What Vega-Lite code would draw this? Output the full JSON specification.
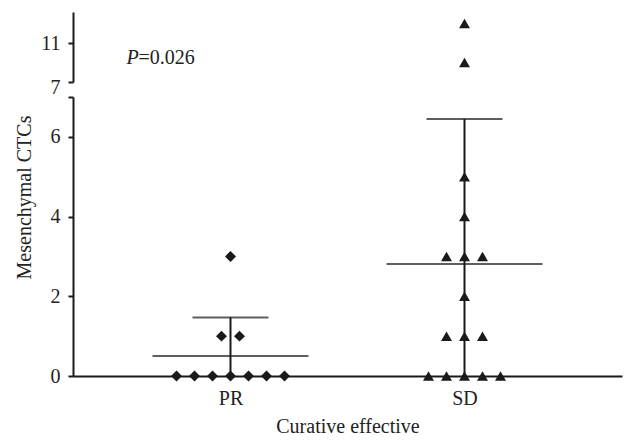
{
  "$schema": "https://vega.github.io/schema/vega-lite/v6.json",
  "width": 549,
  "height": 364,
  "autosize": {"type": "none"},
  "padding": {"left": 73, "top": 12, "right": 3, "bottom": 65},
  "background": "white",
  "config": {
    "font": "Liberation Serif",
    "view": {"stroke": null},
    "axis": {
      "labelFont": "Liberation Serif",
      "titleFont": "Liberation Serif",
      "labelFontSize": 20,
      "titleFontSize": 20,
      "titleFontWeight": "normal",
      "labelColor": "#222222",
      "titleColor": "#222222",
      "domainColor": "#1a1a1a",
      "tickColor": "#1a1a1a",
      "domainWidth": 2,
      "tickWidth": 2,
      "tickSize": 5,
      "grid": false
    }
  },
  "datasets": {
    "points": [
      {"group": "PR", "value": 0, "slot": -3},
      {"group": "PR", "value": 0, "slot": -2},
      {"group": "PR", "value": 0, "slot": -1},
      {"group": "PR", "value": 0, "slot": 0},
      {"group": "PR", "value": 0, "slot": 1},
      {"group": "PR", "value": 0, "slot": 2},
      {"group": "PR", "value": 0, "slot": 3},
      {"group": "PR", "value": 1, "slot": -0.5},
      {"group": "PR", "value": 1, "slot": 0.5},
      {"group": "PR", "value": 3, "slot": 0},
      {"group": "SD", "value": 0, "slot": -2},
      {"group": "SD", "value": 0, "slot": -1},
      {"group": "SD", "value": 0, "slot": 0},
      {"group": "SD", "value": 0, "slot": 1},
      {"group": "SD", "value": 0, "slot": 2},
      {"group": "SD", "value": 1, "slot": -1},
      {"group": "SD", "value": 1, "slot": 0},
      {"group": "SD", "value": 1, "slot": 1},
      {"group": "SD", "value": 2, "slot": 0},
      {"group": "SD", "value": 3, "slot": -1},
      {"group": "SD", "value": 3, "slot": 0},
      {"group": "SD", "value": 3, "slot": 1},
      {"group": "SD", "value": 4, "slot": 0},
      {"group": "SD", "value": 5, "slot": 0},
      {"group": "SD", "value": 9, "slot": 0},
      {"group": "SD", "value": 13, "slot": 0}
    ],
    "summary": [
      {"group": "PR", "mean": 0.5, "upper": 1.47, "lower": -0.47},
      {"group": "SD", "mean": 2.81, "upper": 6.45, "lower": -0.83}
    ],
    "annotation": [
      {"group": "PR", "pos": 8.85, "italic": "P", "rest": "=0.026"}
    ]
  },
  "encoding": {
    "x": {
      "field": "group",
      "type": "nominal",
      "scale": {"type": "point", "domain": ["PR", "SD"], "padding": 0.673, "align": 0.5},
      "axis": {"title": "Curative effective", "labelAngle": 0, "ticks": false, "tickSize": 0, "labelPadding": 12, "titlePadding": 8}
    }
  },
  "layer": [
    {
      "layer": [
        {
          "data": {"name": "summary"},
          "mark": {"type": "rule", "clip": true, "strokeWidth": 2, "color": "#1a1a1a"},
          "encoding": {
            "y": {"field": "lower", "type": "quantitative", "scale": {"domain": [0, 7], "range": [364, 85], "nice": false, "zero": false},
              "axis": {"orient": "left", "title": "Mesenchymal CTCs", "values": [0, 2, 4, 6, 7], "labelPadding": 8, "titlePadding": 16, "titleY": 185,
                "labelBaseline": {"condition": {"test": "datum.value == 7", "value": "bottom"}, "value": "middle"}}},
            "y2": {"field": "upper"}
          }
        },
        {
          "data": {"name": "summary"},
          "mark": {"type": "tick", "size": 156, "thickness": 2, "color": "#1a1a1a"},
          "encoding": {
            "y": {"field": "mean", "type": "quantitative", "scale": {"domain": [0, 7], "range": [364, 85], "nice": false, "zero": false},
              "axis": {"orient": "left", "title": "Mesenchymal CTCs", "values": [0, 2, 4, 6, 7], "labelPadding": 8, "titlePadding": 16, "titleY": 185,
                "labelBaseline": {"condition": {"test": "datum.value == 7", "value": "bottom"}, "value": "middle"}}}
          }
        },
        {
          "data": {"name": "summary"},
          "mark": {"type": "tick", "size": 76, "thickness": 2, "color": "#1a1a1a"},
          "encoding": {
            "y": {"field": "upper", "type": "quantitative", "scale": {"domain": [0, 7], "range": [364, 85], "nice": false, "zero": false},
              "axis": {"orient": "left", "title": "Mesenchymal CTCs", "values": [0, 2, 4, 6, 7], "labelPadding": 8, "titlePadding": 16, "titleY": 185,
                "labelBaseline": {"condition": {"test": "datum.value == 7", "value": "bottom"}, "value": "middle"}}}
          }
        },
        {
          "data": {"name": "points"},
          "transform": [{"filter": "datum.value <= 7"}],
          "mark": {"type": "point", "filled": true, "size": 120, "opacity": 1, "color": "#1a1a1a"},
          "encoding": {
            "y": {"field": "value", "type": "quantitative", "scale": {"domain": [0, 7], "range": [364, 85], "nice": false, "zero": false},
              "axis": {"orient": "left", "title": "Mesenchymal CTCs", "values": [0, 2, 4, 6, 7], "labelPadding": 8, "titlePadding": 16, "titleY": 185,
                "labelBaseline": {"condition": {"test": "datum.value == 7", "value": "bottom"}, "value": "middle"}}},
            "xOffset": {"field": "slot", "type": "quantitative", "scale": {"domain": [-3, 3], "range": [-54, 54]}},
            "shape": {"field": "group", "type": "nominal", "scale": {"domain": ["PR", "SD"], "range": ["diamond", "triangle-up"]}, "legend": null}
          }
        }
      ]
    },
    {
      "layer": [
        {
          "data": {"name": "points"},
          "transform": [{"filter": "datum.value > 7"}],
          "mark": {"type": "point", "filled": true, "size": 120, "opacity": 1, "color": "#1a1a1a"},
          "encoding": {
            "y": {"field": "value", "type": "quantitative", "scale": {"domain": [7, 14.18], "range": [70, 0], "nice": false, "zero": false},
              "axis": {"orient": "left", "title": null, "values": [7, 11], "labelPadding": 8, "labelExpr": "datum.value == 7 ? '' : datum.label"}},
            "xOffset": {"field": "slot", "type": "quantitative", "scale": {"domain": [-3, 3], "range": [-54, 54]}},
            "shape": {"field": "group", "type": "nominal", "scale": {"domain": ["PR", "SD"], "range": ["diamond", "triangle-up"]}, "legend": null}
          }
        },
        {
          "data": {"name": "annotation"},
          "mark": {"type": "text", "font": "Liberation Serif", "fontStyle": "italic", "fontSize": 20, "align": "left", "baseline": "alphabetic", "dx": -104, "color": "#222222"},
          "encoding": {
            "text": {"field": "italic"},
            "y": {"field": "pos", "type": "quantitative", "scale": {"domain": [7, 14.18], "range": [70, 0], "nice": false, "zero": false},
              "axis": {"orient": "left", "title": null, "values": [7, 11], "labelPadding": 8, "labelExpr": "datum.value == 7 ? '' : datum.label"}}
          }
        },
        {
          "data": {"name": "annotation"},
          "mark": {"type": "text", "font": "Liberation Serif", "fontSize": 20, "align": "left", "baseline": "alphabetic", "dx": -92, "color": "#222222"},
          "encoding": {
            "text": {"field": "rest"},
            "y": {"field": "pos", "type": "quantitative", "scale": {"domain": [7, 14.18], "range": [70, 0], "nice": false, "zero": false},
              "axis": {"orient": "left", "title": null, "values": [7, 11], "labelPadding": 8, "labelExpr": "datum.value == 7 ? '' : datum.label"}}
          }
        }
      ]
    }
  ],
  "resolve": {"scale": {"y": "independent"}, "axis": {"y": "independent"}}
}
